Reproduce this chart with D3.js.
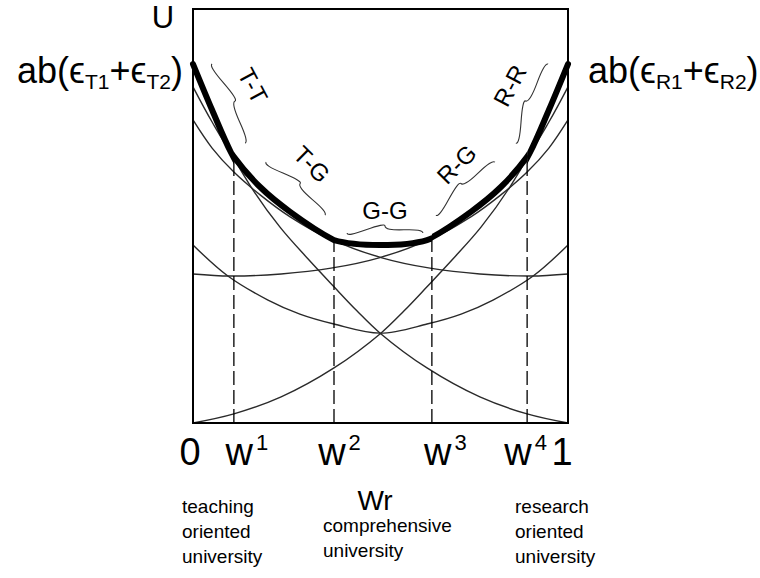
<!DOCTYPE html>
<html>
<head>
<meta charset="utf-8">
<script src="https://cdn.jsdelivr.net/npm/d3@7"></script>
<style>
  body { margin: 0; background: #fff; }
  svg { font-family: "Liberation Sans", Arial, sans-serif; }
</style>
</head>
<body>
<svg id="chart"></svg>
<script>
// curves: [w, U]  (U scaled 0..100 over the box height)
const ttCurve = [[0,86.7],[0.051,75.6],[0.101,65.4],[0.155,57.0],[0.232,47.3],[0.307,39.6],[0.376,32.9],[0.437,27.1],[0.499,21.7],[0.624,13.3],[0.765,6.3],[0.891,2.2],[1,0]];
const rrCurve = [[0,0],[0.109,2.2],[0.235,6.3],[0.376,13.3],[0.501,21.7],[0.563,27.1],[0.624,32.9],[0.693,39.6],[0.768,47.3],[0.845,57.0],[0.899,65.4],[0.949,75.6],[1,86.7]];
const tgCurve = [[0,81.2],[0.051,72.7],[0.109,64.3],[0.179,57.0],[0.259,51.0],[0.376,44.2],[0.504,39.9],[0.632,37.4],[0.765,36.0],[0.901,35.5],[1,36.0]];
const grCurve = [[0,36.0],[0.099,35.5],[0.235,36.0],[0.368,37.4],[0.496,39.9],[0.624,44.2],[0.741,51.0],[0.821,57.0],[0.891,64.3],[0.949,72.7],[1,81.2]];
const ggCurve = [[0,73.2],[0.051,66.4],[0.109,60.6],[0.179,55.1],[0.259,49.8],[0.376,44.2],[0.499,43.0],[0.624,44.2],[0.741,49.8],[0.821,55.1],[0.891,60.6],[0.949,66.4],[1,73.2]];
const trCurve = [[0,43.0],[0.093,35.5],[0.2,29.7],[0.285,26.3],[0.376,23.9],[0.499,21.7],[0.624,23.9],[0.715,26.3],[0.8,29.7],[0.907,35.5],[1,43.0]];

// thresholds w1..w4 and the envelope height there
const breaks = [0.109, 0.376, 0.637, 0.891];
const breakU = [64.3, 44.2, 44.2, 64.3];
const breakSup = ["1", "2", "3", "4"];

// which curve forms the envelope on each interval
const segNames = ["T-T", "T-G", "G-G", "R-G", "R-R"];
const segCurves = [ttCurve, tgCurve, ggCurve, grCurve, rrCurve];

const width = 760, height = 578;
const svg = d3.select("#chart").attr("width", width).attr("height", height);

const x = d3.scaleLinear().domain([0, 1]).range([193, 568]);
const y = d3.scaleLinear().domain([0, 100]).range([423, 9]);

const line = d3.line()
    .x(d => x(d[0]))
    .y(d => y(d[1]))
    .curve(d3.curveCatmullRom.alpha(0.5));

// thin curves
svg.selectAll(".thin")
    .data([ttCurve, rrCurve, tgCurve, grCurve, ggCurve, trCurve])
    .enter().append("path")
    .attr("class", "thin")
    .attr("d", line)
    .attr("fill", "none")
    .attr("stroke", "#2a2a2a")
    .attr("stroke-width", 1.4);

// dashed verticals
svg.selectAll(".drop")
    .data(breaks)
    .enter().append("line")
    .attr("x1", d => x(d)).attr("x2", d => x(d))
    .attr("y1", y(0)).attr("y2", (d, i) => y(breakU[i]))
    .attr("stroke", "#000")
    .attr("stroke-width", 1.3)
    .attr("stroke-dasharray", "14,5");

// thick envelope, one clipped piece per interval
const edges = [0, ...breaks, 1];
const defs = svg.append("defs");
segCurves.forEach((c, i) => {
    const lo = i === 0 ? x(edges[i]) - 10 : x(edges[i]);
    const hi = i === segCurves.length - 1 ? x(edges[i + 1]) + 10 : x(edges[i + 1]);
    defs.append("clipPath").attr("id", "seg" + i)
        .append("rect")
        .attr("x", lo).attr("y", 0)
        .attr("width", hi - lo).attr("height", height);
    svg.append("path")
        .attr("d", line(c))
        .attr("clip-path", `url(#seg${i})`)
        .attr("fill", "none")
        .attr("stroke", "#000")
        .attr("stroke-width", 6)
        .attr("stroke-linecap", "round");
});

// box
svg.append("rect")
    .attr("x", x(0)).attr("y", y(100))
    .attr("width", x(1) - x(0)).attr("height", y(0) - y(100))
    .attr("fill", "none")
    .attr("stroke", "#000")
    .attr("stroke-width", 2);

// curly braces
function brace(x1, y1, x2, y2, w, q) {
    let dx = x1 - x2, dy = y1 - y2;
    const len = Math.sqrt(dx * dx + dy * dy);
    dx /= len; dy /= len;
    const qx1 = x1 + q * w * dy, qy1 = y1 - q * w * dx;
    const qx2 = (x1 - .25 * len * dx) + (1 - q) * w * dy, qy2 = (y1 - .25 * len * dy) - (1 - q) * w * dx;
    const tx1 = (x1 - .5 * len * dx) + w * dy, ty1 = (y1 - .5 * len * dy) - w * dx;
    const qx3 = x2 - q * w * dy, qy3 = y2 + q * w * dx;
    const qx4 = (x1 - .75 * len * dx) + (1 - q) * w * dy, qy4 = (y1 - .75 * len * dy) - (1 - q) * w * dx;
    return `M${x1},${y1}Q${qx1},${qy1} ${qx2},${qy2}T${tx1},${ty1}` +
           `M${x2},${y2}Q${qx3},${qy3} ${qx4},${qy4}T${tx1},${ty1}`;
}

// brace ends (larger w first) and label placement, in data coords
const braceLayout = [
    { a: [0.139, 67.6], b: [0.051, 86.7], t: [0.160, 81.5], r: 62 },
    { a: [0.352, 50.2], b: [0.195, 63.0], t: [0.317, 62.5], r: 45 },
    { a: [0.613, 45.9], b: [0.411, 45.9], t: [0.512, 51.3], r: 0 },
    { a: [0.805, 63.0], b: [0.648, 50.2], t: [0.703, 62.5], r: -45 },
    { a: [0.947, 86.7], b: [0.861, 67.6], t: [0.845, 81.5], r: -62 }
];

braceLayout.forEach((L, i) => {
    svg.append("path")
        .attr("d", brace(x(L.a[0]), y(L.a[1]), x(L.b[0]), y(L.b[1]), 7, 0.55))
        .attr("fill", "none")
        .attr("stroke", "#333")
        .attr("stroke-width", 1.1);
    svg.append("text")
        .attr("transform", `translate(${x(L.t[0])},${y(L.t[1])}) rotate(${L.r})`)
        .attr("text-anchor", "middle")
        .attr("dominant-baseline", "central")
        .attr("font-size", 24)
        .text(segNames[i]);
});

// axis labels
svg.append("text").attr("x", x(0) - 30).attr("y", 28)
    .attr("text-anchor", "middle").attr("font-size", 31).text("U");

function endLabel(xpos, anchor, letter) {
    const t = svg.append("text").attr("x", xpos).attr("y", 83)
        .attr("text-anchor", anchor).attr("font-size", 36);
    t.append("tspan").text("ab(ϵ");
    t.append("tspan").attr("font-size", 21).attr("dy", 6).text(letter + "1");
    t.append("tspan").attr("dy", -6).text("+ϵ");
    t.append("tspan").attr("font-size", 21).attr("dy", 6).text(letter + "2");
    t.append("tspan").attr("dy", -6).text(")");
}
endLabel(x(0) - 10, "end", "T");
endLabel(x(1) + 20, "start", "R");

// ticks 0, w1..w4, 1
const tickOff = [13, 5.5, 13.5, -1.5];
svg.append("text").attr("x", x(0) - 3).attr("y", 465)
    .attr("text-anchor", "middle").attr("font-size", 38).text("0");
svg.append("text").attr("x", x(1) - 6).attr("y", 465)
    .attr("text-anchor", "middle").attr("font-size", 38).text("1");
breaks.forEach((b, i) => {
    const t = svg.append("text").attr("x", x(b) + tickOff[i]).attr("y", 465)
        .attr("text-anchor", "middle").attr("font-size", 38);
    t.append("tspan").text("w");
    t.append("tspan").attr("font-size", 22).attr("dx", 3).attr("dy", -15).text(breakSup[i]);
});

svg.append("text").attr("x", 375).attr("y", 510)
    .attr("text-anchor", "middle").attr("font-size", 28).text("Wr");

function block(xpos, y0, lines) {
    lines.forEach((s, i) => {
        svg.append("text").attr("x", xpos).attr("y", y0 + i * 25)
            .attr("font-size", 19).text(s);
    });
}
block(182, 513, ["teaching", "oriented", "university"]);
block(323, 532, ["comprehensive", "university"]);
block(515, 513, ["research", "oriented", "university"]);
</script>
</body>
</html>
